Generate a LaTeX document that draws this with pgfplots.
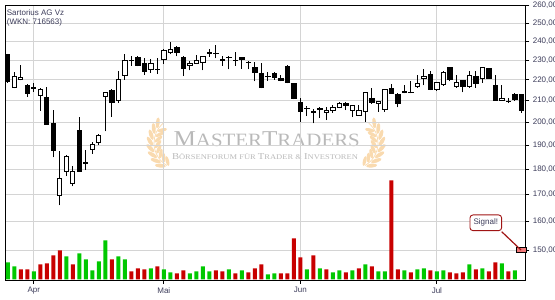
\documentclass[border=0pt]{standalone}
\usepackage{fontspec}
\setmainfont{Liberation Sans}
\newfontfamily\wmserif{Liberation Serif}
\usepackage{graphicx}
\usepackage{pgfplots}
\usetikzlibrary{calc}
\pgfplotsset{compat=1.18}
\definecolor{lab}{RGB}{60,60,90}
\definecolor{vgreen}{RGB}{0,200,0}
\definecolor{vred}{RGB}{200,0,0}
\definecolor{gridc}{RGB}{212,212,212}
\definecolor{wm}{RGB}{185,185,185}
\definecolor{wreath}{RGB}{249,218,175}
\definecolor{sigred}{RGB}{160,20,20}
\definecolor{sigpink}{RGB}{240,120,120}

% \candle{index}{open}{high}{low}{close}
\newcommand{\candle}[5]{%
  \pgfmathsetmacro\xl{#1-0.33}%
  \pgfmathsetmacro\xr{#1+0.33}%
  \ifdim #5pt<#2pt \def\cfill{black}\else\def\cfill{white}\fi
  \addplot[black, line width=0.9pt] coordinates {(#1,#4) (#1,#3)};
  \edef\doit{\noexpand\addplot[draw=black, fill=\cfill, line width=0.9pt, line cap=rect] coordinates {(\xl,#2) (\xr,#2) (\xr,#5) (\xl,#5) (\xl,#2)};}%
  \doit
}
\newcommand{\wbig}[1]{{\fontsize{9}{9}\selectfont #1}}
\newcommand{\wsml}[1]{{\fontsize{7.2}{8}\selectfont #1}}

\begin{document}
\begin{tikzpicture}
\path[use as bounding box] (0pt,0pt) rectangle (555pt,300pt);
\clip (0pt,0pt) rectangle (555pt,300pt);

% watermark: laurel wreaths
\foreach \a in {138,151,164,177,190,203,216,229}{
  \fill[wreath] ($(180pt,157pt)+(\a:30pt)$) ellipse [x radius=5.5pt, y radius=2pt, rotate=\a-55];
  \fill[wreath] ($(180pt,157pt)+(\a+6:22pt)$) ellipse [x radius=5pt, y radius=1.8pt, rotate=\a-125];
  \fill[wreath] ($(352pt,157pt)+(180-\a:30pt)$) ellipse [x radius=5.5pt, y radius=2pt, rotate=235-\a];
  \fill[wreath] ($(352pt,157pt)+(174-\a:22pt)$) ellipse [x radius=5pt, y radius=1.8pt, rotate=305-\a];
}
\draw[wreath, line width=0.7pt] ($(180pt,157pt)+(240:26pt)$) arc[start angle=240, end angle=130, radius=26pt];
\draw[wreath, line width=0.7pt] ($(352pt,157pt)+(-60:26pt)$) arc[start angle=-60, end angle=50, radius=26pt];
\node[anchor=base, inner sep=0, text=wm] at (266.7pt,153.3pt) {\scalebox{1.11}[1]{\wmserif\fontsize{22.7}{23}\selectfont M\fontsize{18.8}{19}\selectfont ASTER\fontsize{22.7}{23}\selectfont T\fontsize{18.8}{19}\selectfont RADERS}};
\node[anchor=base, inner sep=0, text=wm] at (265pt,140pt) {\scalebox{1.18}[1]{\wmserif\wbig{B}\wsml{ÖRSENFORUM FÜR }\wbig{T}\wsml{RADER \& }\wbig{I}\wsml{NVESTOREN}}};

\begin{axis}[
  at={(5.7pt,20pt)}, anchor=south west, scale only axis,
  width=519.6pt, height=274.3pt,
  ymode=log, ymin=140.2, ymax=260, xmin=-0.32, xmax=79.6,
  clip=false,
  axis line style={black, line width=0.9pt},
  xtick={4,24,45,66}, xticklabels={Apr,Mai,Jun,Jul},
  ytick={150,160,170,180,190,200,210,220,230,240,250,260},
  yticklabels={{150,00},{160,00},{170,00},{180,00},{190,00},{200,00},{210,00},{220,00},{230,00},{240,00},{250,00},{260,00}},
  xtick pos=bottom, ytick pos=right, yticklabel pos=right,
  tick align=outside, major tick length=4pt,
  tick style={black, line width=0.9pt},
  grid=major, grid style={draw=gridc, line width=0.9pt},
  tick label style={font=\fontsize{8}{9}\selectfont, text=lab},
]
\candle{0}{232.7}{232.9}{218.5}{219.2}
\candle{1}{216.1}{223.8}{215.8}{221.6}
\candle{2}{220.0}{227.4}{219.7}{221.2}
\candle{3}{217.3}{218.1}{211.9}{213.3}
\candle{4}{216.3}{218.4}{214.2}{216.0}
\candle{5}{212.5}{215.8}{205.2}{215.5}
\candle{6}{211.25}{216.4}{198.8}{199.0}
\candle{7}{199.3}{205.5}{184.8}{187.7}
\candle{8}{169.5}{187.5}{165.8}{176.1}
\candle{9}{179.2}{185.9}{177.1}{185.3}
\candle{10}{174.4}{181.4}{173.1}{178.9}
\candle{11}{196.2}{202.2}{178.8}{179.1}
\candle{12}{182.3}{188.0}{179.5}{182.6}
\candle{13}{188.1}{191.5}{186.4}{190.4}
\candle{14}{191.2}{194.8}{190.0}{194.3}
\candle{15}{211.9}{214.2}{195.9}{213.9}
\candle{16}{215.0}{215.3}{202.5}{209.1}
\candle{17}{210.2}{224.3}{208.8}{220.0}
\candle{18}{222.2}{233.3}{220.0}{229.8}
\candle{19}{230.0}{232.0}{227.0}{229.6}
\candle{20}{231.3}{232.4}{226.8}{227.1}
\candle{21}{228.1}{230.9}{222.6}{224.0}
\candle{22}{225.2}{230.5}{223.6}{228.3}
\candle{23}{225.0}{231.3}{222.9}{225.4}
\candle{24}{230.5}{235.6}{228.1}{234.9}
\candle{25}{234.2}{239.6}{233.1}{235.8}
\candle{26}{236.4}{237.6}{232.0}{233.8}
\candle{27}{231.6}{232.0}{221.9}{225.7}
\candle{28}{227.1}{229.8}{224.8}{228.3}
\candle{29}{228.1}{232.7}{228.0}{229.7}
\candle{30}{229.0}{232.2}{224.7}{232.0}
\candle{31}{233.4}{236.0}{231.8}{233.8}
\candle{32}{233.5}{238.2}{230.9}{233.3}
\candle{33}{230.0}{232.4}{227.1}{230.2}
\candle{34}{231.2}{232.0}{225.3}{231.4}
\candle{35}{229.7}{234.5}{227.1}{229.9}
\candle{36}{231.3}{231.5}{225.7}{230.2}
\candle{37}{228.7}{229.5}{225.3}{228.9}
\candle{38}{226.3}{229.1}{219.2}{223.6}
\candle{39}{223.1}{228.5}{215.8}{216.5}
\candle{40}{221.5}{224.0}{219.5}{221.7}
\candle{41}{223.0}{223.8}{220.0}{221.2}
\candle{42}{220.9}{222.6}{219.2}{219.5}
\candle{43}{226.9}{227.4}{218.3}{218.6}
\candle{44}{218.0}{218.2}{210.5}{210.8}
\candle{45}{209.0}{211.0}{200.1}{204.8}
\candle{46}{206.3}{207.5}{202.8}{206.5}
\candle{47}{204.6}{205.9}{199.5}{204.8}
\candle{48}{206.3}{206.8}{201.9}{205.9}
\candle{49}{204.5}{207.1}{200.9}{205.5}
\candle{50}{205.5}{207.9}{204.3}{206.8}
\candle{51}{206.8}{209.5}{206.3}{208.5}
\candle{52}{208.5}{209.2}{205.5}{207.8}
\candle{53}{205.3}{207.8}{202.3}{207.8}
\candle{54}{203.2}{207.8}{203.0}{205.5}
\candle{55}{204.8}{213.9}{200.1}{213.7}
\candle{56}{210.8}{215.9}{208.5}{209.2}
\candle{57}{208.5}{209.7}{204.8}{209.7}
\candle{58}{206.0}{215.3}{204.8}{215.3}
\candle{59}{216.0}{217.9}{213.4}{213.6}
\candle{60}{212.7}{213.4}{206.8}{208.8}
\candle{61}{214.0}{217.3}{213.4}{214.3}
\candle{62}{213.8}{219.2}{213.4}{214.0}
\candle{63}{216.6}{222.6}{216.1}{218.1}
\candle{64}{220.5}{225.4}{217.3}{221.7}
\candle{65}{222.6}{224.3}{215.0}{215.5}
\candle{66}{215.3}{218.6}{214.7}{218.6}
\candle{67}{217.7}{224.3}{217.0}{223.6}
\candle{68}{226.2}{226.5}{219.2}{220.0}
\candle{69}{217.0}{222.2}{216.1}{218.9}
\candle{70}{219.7}{219.7}{213.9}{216.6}
\candle{71}{216.6}{224.5}{216.1}{222.2}
\candle{72}{221.7}{224.3}{216.1}{218.1}
\candle{73}{220.5}{226.5}{218.6}{226.2}
\candle{74}{225.7}{225.7}{220.5}{220.5}
\candle{75}{217.3}{222.2}{210.0}{210.0}
\candle{76}{210.0}{217.7}{210.0}{211.1}
\candle{77}{209.4}{211.1}{208.8}{209.6}
\candle{78}{213.1}{213.4}{209.8}{210.6}
\candle{79}{212.7}{213.1}{204.4}{205.5}
\addplot[only marks, mark=square*, mark size=2.65pt, mark options={xscale=1.9, fill=sigpink, draw=none}] coordinates {(79,150)};
\end{axis}

\begin{axis}[
  at={(5.7pt,20pt)}, anchor=south west, scale only axis,
  width=519.6pt, height=274.3pt,
  xmin=-0.32, xmax=79.6, ymin=-0.6, ymax=273.7,
  hide axis,
]
\addplot[ybar, bar width=4pt, bar shift=0pt, fill=vgreen, draw=none] coordinates {
(0,17) (1,13) (4,8) (9,23) (11,26) (12,20) (13,9) (14,18) (15,39) (17,23) (18,20)
(22,11) (24,10) (25,7) (28,6) (29,8) (30,13) (31,8) (34,10) (36,9) (40,5) (41,6)
(46,10) (48,11) (50,7) (51,9) (53,9) (55,15) (57,8) (58,8) (61,9) (63,10) (64,11)
(66,8) (67,9) (71,15) (73,11) (76,16) (78,9)};
\addplot[ybar, bar width=4pt, bar shift=0pt, fill=vred, draw=none] coordinates {
(2,10) (3,10) (5,15) (6,16) (7,24) (8,29) (10,15) (16,20) (19,8) (20,11) (21,10)
(23,13) (26,6) (27,9) (32,9) (33,8) (35,6) (37,7) (38,11) (39,15) (42,6) (43,6)
(44,41) (45,22) (47,24) (49,10) (52,7) (54,11) (56,13) (59,99) (60,10) (62,7)
(65,9) (68,7) (69,6) (70,7) (72,10) (74,8) (75,17) (77,8)};
\end{axis}

\node[anchor=base west, inner sep=0, font=\fontsize{8}{9}\selectfont, text=lab] at (6.7pt,284pt) {Sartorius AG Vz};
\node[anchor=base west, inner sep=0, font=\fontsize{8}{9}\selectfont, text=lab] at (6.7pt,275pt) {(WKN: 716563)};

\draw[sigred, line width=1.2pt] (501.7pt,68.3pt) -- (521pt,50pt);
\node[draw=sigred, line width=0.9pt, fill=white, rounded corners=3pt, minimum width=31.7pt, minimum height=15.7pt, inner sep=0, font=\fontsize{8}{9}\selectfont, text=lab] at (485.8pt,77.2pt) {Signal!};
\end{tikzpicture}
\end{document}
